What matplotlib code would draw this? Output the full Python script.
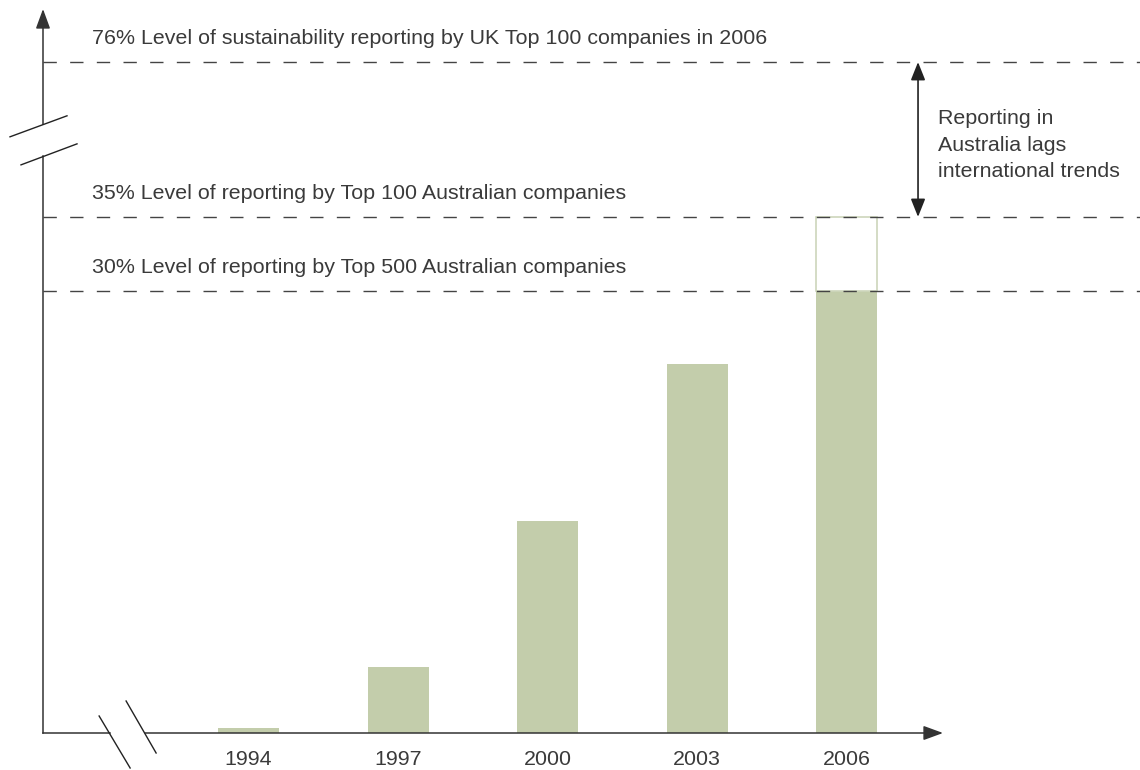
import matplotlib
matplotlib.use("Agg")
import matplotlib.pyplot as plt
from matplotlib.lines import Line2D

plt.rcParams['font.family'] = ['Liberation Sans', 'DejaVu Sans']

# data (% of companies reporting)
years = ["1994", "1997", "2000", "2003", "2006"]
reporting = [0.35, 4.5, 14.4, 25.0, 30.0]
top100_2006 = 35.0          # outline on top of the 2006 bar

levels = [76, 35, 30]
level_labels = [
    "76% Level of sustainability reporting by UK Top 100 companies in 2006",
    "35% Level of reporting by Top 100 Australian companies",
    "30% Level of reporting by Top 500 Australian companies",
]
gap_label = "Reporting in\nAustralia lags\ninternational trends"

bar_col = "#c3cdab"
txt_col = "#3a3a3a"
ax_col = "#333333"
FS = 15.4

# broken y scale: values above the break are shifted down
BREAK_LO, BREAK_HI = 39.14, 41.28
SHIFT = 30.5


def ypos(v):
    return v if v < 40 else v - SHIFT


fig = plt.figure(figsize=(11.4, 7.7), dpi=100)
ax = fig.add_axes([43 / 1140, 37 / 770, 900 / 1140, 724 / 770])
x = list(range(len(years)))
ax.set_xlim(-1.375, 4.645)
ax.set_ylim(0, 49.1)
for s in ax.spines.values():
    s.set_visible(False)
ax.set_yticks([])
ax.set_xticks(x)
ax.set_xticklabels(years, fontsize=FS, color=txt_col)
ax.tick_params(axis='x', length=0, pad=12)

# bars
ax.bar(x, reporting, width=0.408, color=bar_col, zorder=2)
ax.bar(x[-1], top100_2006 - reporting[-1], bottom=reporting[-1], width=0.408,
       facecolor='none', edgecolor="#cdd6bb", linewidth=1.2, zorder=2)

# dashed reference levels, running off to the right edge of the figure
xmin = ax.get_xlim()[0]
for lv, lab in zip(levels, level_labels):
    ax.plot([xmin, 5.97], [ypos(lv)] * 2, color="#444444", lw=1.0,
            dashes=(9.6, 9.6), clip_on=False, zorder=3)
    ax.annotate(lab, xy=(xmin, ypos(lv)), xytext=(35.3, 13), textcoords='offset points',
                fontsize=FS, color=txt_col, va='baseline', ha='left')

# double arrow between UK and Australian top 100
arrow_x = 4.478
ax.annotate("", xy=(arrow_x, ypos(levels[0])), xytext=(arrow_x, ypos(levels[1])),
            arrowprops=dict(arrowstyle='<|-|>,head_length=0.55,head_width=0.22',
                            mutation_scale=20, color="#222222", lw=1.2,
                            shrinkA=0, shrinkB=0), zorder=4)
ax.annotate(gap_label, xy=(arrow_x, ypos(levels[0])), xytext=(14.5, -34),
            textcoords='offset points', fontsize=FS, color=txt_col,
            va='top', ha='left', linespacing=1.5)

# axes drawn by hand, with break marks
ymax = ax.get_ylim()[1]
xmax = ax.get_xlim()[1]
ax.plot([xmin, xmin], [0, BREAK_LO], color=ax_col, lw=1.1, clip_on=False, zorder=5)
ax.annotate("", xy=(xmin, ymax), xytext=(xmin, BREAK_HI),
            arrowprops=dict(arrowstyle='-|>,head_length=0.6,head_width=0.22',
                            mutation_scale=20, color=ax_col, lw=1.1,
                            shrinkA=0, shrinkB=0), annotation_clip=False)
XB_LO, XB_HI = -0.926, -0.692
ax.plot([xmin, XB_LO], [0, 0], color=ax_col, lw=1.1, clip_on=False, zorder=5)
ax.annotate("", xy=(xmax, 0), xytext=(XB_HI, 0),
            arrowprops=dict(arrowstyle='-|>,head_length=0.6,head_width=0.22',
                            mutation_scale=20, color=ax_col, lw=1.1,
                            shrinkA=0, shrinkB=0), annotation_clip=False)

# break slashes, placed relative to the break points (pixel offsets)
fig.canvas.draw()
H = fig.get_figheight() * fig.dpi
W = fig.get_figwidth() * fig.dpi


def slash(px, py, dx0, dy0, dx1, dy1):
    # px, py display coords (origin bottom-left); offsets in pixels, y downward
    line = Line2D([(px + dx0) / W, (px + dx1) / W],
                  [(py - dy0) / H, (py - dy1) / H],
                  transform=fig.transFigure, color="#222222", lw=1.0)
    fig.add_artist(line)


yb_lo = ax.transData.transform((xmin, BREAK_LO))
yb_hi = ax.transData.transform((xmin, BREAK_HI))
slash(yb_hi[0], yb_hi[1], -33, 12.5, 24, -8.5)
slash(yb_lo[0], yb_lo[1], -22, 9, 34, -12)
xb_lo = ax.transData.transform((XB_LO, 0))
xb_hi = ax.transData.transform((XB_HI, 0))
slash(xb_lo[0], xb_lo[1], -11, -17, 20, 35)
slash(xb_hi[0], xb_hi[1], -19, -32, 11, 20)

fig.savefig("out.png", dpi=100)
